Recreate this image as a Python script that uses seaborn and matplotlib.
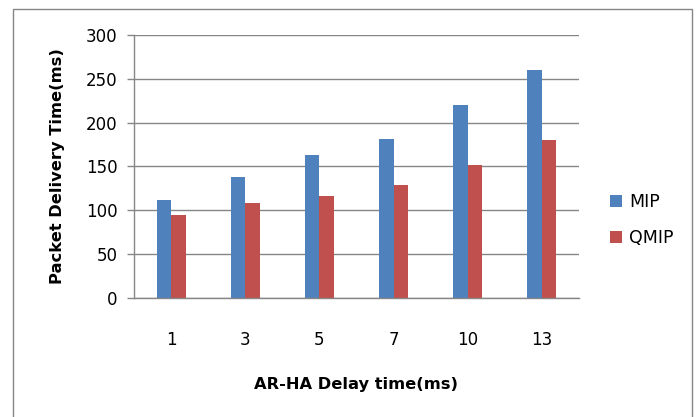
import numpy as np
import pandas as pd
import matplotlib
matplotlib.use("Agg")
import matplotlib.pyplot as plt
import seaborn as sns
from matplotlib.patches import Rectangle, Patch

# data
delays = ["1", "3", "5", "7", "10", "13"]
mip = [112, 138, 163, 181, 220, 260]
qmip = [95, 108, 116, 129, 152, 180]
series = ["MIP", "QMIP"]
colors = ["#4F81BD", "#C0504D"]

df = pd.DataFrame({
    "delay": delays * 2,
    "time": mip + qmip,
    "proto": ["MIP"] * len(delays) + ["QMIP"] * len(delays),
})

sns.set_style("white")
plt.rcParams["font.family"] = ["DejaVu Sans"]
plt.rcParams["text.color"] = "black"
plt.rcParams["xtick.color"] = "black"
plt.rcParams["ytick.color"] = "black"
plt.rcParams["axes.labelcolor"] = "black"
grid_col = "#868686"

fig = plt.figure(figsize=(6.96, 4.17), dpi=100)
ax = fig.add_axes([0.1925, 0.2854, 0.6394, 0.6307])

sns.barplot(data=df, x="delay", y="time", hue="proto", order=delays,
            hue_order=series, palette=colors, width=0.39, saturation=1,
            edgecolor="none", ax=ax, legend=False)

ax.set_ylim(0, 300)
ax.set_yticks(np.arange(0, 301, 50))
ax.set_xlim(-0.5, len(delays) - 0.5)
ax.yaxis.grid(True, color=grid_col, lw=1)
ax.set_axisbelow(True)

for s in ["top", "right"]:
    ax.spines[s].set_visible(False)
for s in ["left", "bottom"]:
    ax.spines[s].set_color(grid_col)
    ax.spines[s].set_linewidth(1)

ax.tick_params(axis="y", length=5, width=1, color=grid_col, pad=7,
               labelsize=12, left=True, labelcolor="black")
ax.tick_params(axis="x", length=0, pad=24, labelsize=12, labelcolor="black")

ax.set_ylabel("Packet Delivery Time(ms)", fontsize=11.7, fontweight="bold")
ax.set_xlabel("AR-HA Delay time(ms)", fontsize=11.7, fontweight="bold")
ax.yaxis.set_label_coords(-0.155, 0.5)
ax.xaxis.set_label_coords(0.5, -0.30)

handles = [Patch(facecolor=c, edgecolor="none", label=s) for s, c in zip(series, colors)]
ax.legend(handles=handles, loc="center left", bbox_to_anchor=(1.07, 0.297),
          frameon=False, fontsize=12.5, handlelength=0.7, handleheight=0.7,
          handletextpad=0.4, labelspacing=1.05, borderpad=0, borderaxespad=0)

# outer chart border
fig.patches.append(Rectangle((13 / 696, -0.05), (692 - 13) / 696, 1 - 9 / 417 + 0.05,
                             transform=fig.transFigure, fill=False,
                             edgecolor=grid_col, lw=1))

fig.savefig("out.png", dpi=100)
